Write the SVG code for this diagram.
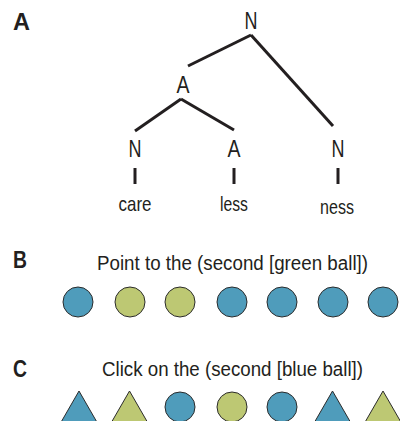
<svg xmlns="http://www.w3.org/2000/svg" width="400" height="421" viewBox="0 0 400 421">
<style>
text{font-family:"Liberation Sans Narrow","Liberation Sans",Arial,sans-serif;fill:#231f20}
.lab{font-weight:bold;font-size:23px}
.cat{font-size:23px;text-anchor:middle}
.word{font-size:21px;text-anchor:middle}
.cap{font-size:20px}
.edge{stroke:#231f20;stroke-width:3;fill:none}
.blue{fill:#4f9cbb;stroke:#2b2b2b;stroke-width:1}
.green{fill:#bdc873;stroke:#2b2b2b;stroke-width:1}
</style>
<defs>
<circle id="c" r="15"/>
<path id="t" d="M0,0 L19.6,34 L-19.6,34 Z"/>
</defs>
<text class="lab" x="13" y="30" textLength="17" lengthAdjust="spacingAndGlyphs">A</text>
<text class="lab" x="13" y="268" textLength="14" lengthAdjust="spacingAndGlyphs">B</text>
<text class="lab" x="13" y="377" textLength="14" lengthAdjust="spacingAndGlyphs">C</text>
<g id="connectors">
<line class="edge" x1="251" y1="35" x2="188" y2="66"/>
<line class="edge" x1="251" y1="35" x2="333" y2="126"/>
<line class="edge" x1="181" y1="99" x2="135" y2="131"/>
<line class="edge" x1="181" y1="99" x2="234" y2="130"/>
<line class="edge" x1="135" y1="168" x2="135" y2="184"/>
<line class="edge" x1="234" y1="168" x2="234" y2="184"/>
<line class="edge" x1="338" y1="168" x2="338" y2="184"/>
</g>
<g id="n-root"><text class="cat" x="251" y="29" textLength="13" lengthAdjust="spacingAndGlyphs">N</text></g>
<g id="a-mid"><text class="cat" x="183" y="93" textLength="13" lengthAdjust="spacingAndGlyphs">A</text></g>
<g id="n-care"><text class="cat" x="135" y="157" textLength="13" lengthAdjust="spacingAndGlyphs">N</text></g>
<g id="a-less"><text class="cat" x="234" y="157" textLength="13" lengthAdjust="spacingAndGlyphs">A</text></g>
<g id="n-ness"><text class="cat" x="338" y="157" textLength="13" lengthAdjust="spacingAndGlyphs">N</text></g>
<g id="w-care"><text class="word" x="135" y="211" textLength="33" lengthAdjust="spacingAndGlyphs">care</text></g>
<g id="w-less"><text class="word" x="234" y="211" textLength="28" lengthAdjust="spacingAndGlyphs">less</text></g>
<g id="w-ness"><text class="word" x="337" y="214" textLength="34" lengthAdjust="spacingAndGlyphs">ness</text></g>
<g id="panel-b">
<text class="cap" x="97" y="270" textLength="271" lengthAdjust="spacingAndGlyphs">Point to the (second [green ball])</text>
<use href="#c" class="blue" x="78" y="302"/>
<use href="#c" class="green" x="130" y="302"/>
<use href="#c" class="green" x="180" y="302"/>
<use href="#c" class="blue" x="232" y="302"/>
<use href="#c" class="blue" x="282" y="302"/>
<use href="#c" class="blue" x="333" y="302"/>
<use href="#c" class="blue" x="383" y="302"/>
</g>
<g id="panel-c">
<text class="cap" x="102" y="376" textLength="261" lengthAdjust="spacingAndGlyphs">Click on the (second [blue ball])</text>
<use href="#t" class="blue" x="79" y="391"/>
<use href="#t" class="green" x="129.5" y="391"/>
<use href="#c" class="blue" x="180" y="407"/>
<use href="#c" class="green" x="232" y="407"/>
<use href="#c" class="blue" x="282" y="407"/>
<use href="#t" class="blue" x="332.5" y="391"/>
<use href="#t" class="green" x="383" y="391"/>
</g>
</svg>
